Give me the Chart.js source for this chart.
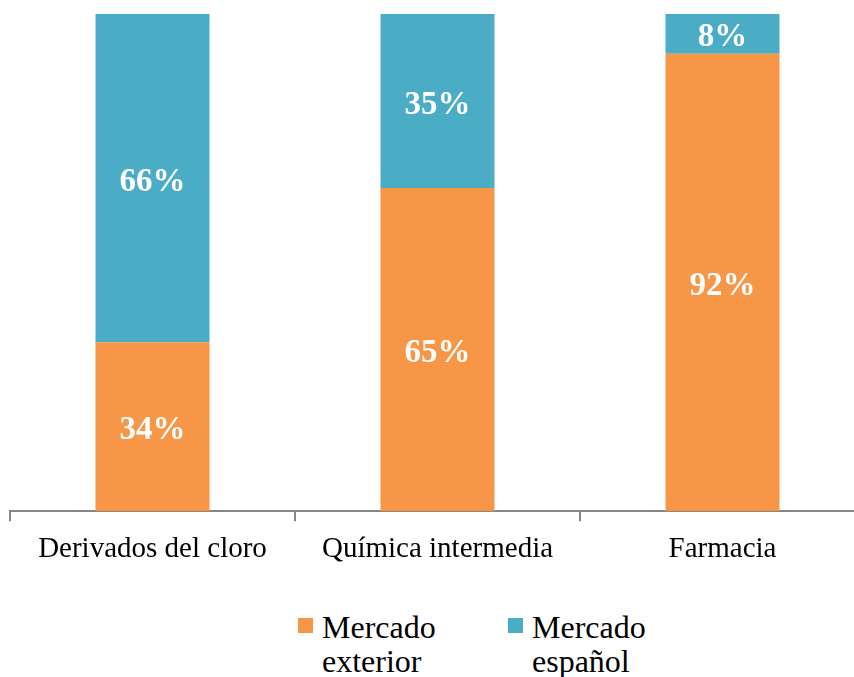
<!DOCTYPE html>
<html>
<head>
<meta charset="utf-8">
<script src="https://cdn.jsdelivr.net/npm/chart.js@4"></script>
<style>
  html, body { margin: 0; padding: 0; background: #fff; overflow: hidden; }
  #wrap { position: relative; width: 866px; height: 677px; }
  #box { position: absolute; left: 0; top: 0; width: 866px; height: 578px; }
  .legend { position: absolute; top: 610px; font-family: 'Liberation Serif'; font-size: 32px; line-height: 34px; color: #000; }
  .swatch { position: absolute; top: 8px; width: 15px; height: 15px; }
</style>
</head>
<body>
<div id="wrap">
  <div id="box"><canvas id="mychart"></canvas></div>
  <div class="legend" style="left:298px"><span class="swatch" style="left:0;background:#F79646"></span><div style="margin-left:24px">Mercado<br>exterior</div></div>
  <div class="legend" style="left:508px"><span class="swatch" style="left:0;background:#4BACC6"></span><div style="margin-left:24px">Mercado<br>español</div></div>
</div>
<script>
// chart values
const categories = ["Derivados del cloro", "Química intermedia", "Farmacia"];
const exterior = [34, 65, 92];
const espanol = [66, 35, 8];

const serif = "'Liberation Serif'";

// draws the white % labels inside each segment
const barLabels = {
  id: "barLabels",
  afterDatasetsDraw(chart) {
    const ctx = chart.ctx;
    ctx.save();
    ctx.font = "bold 33px " + serif;
    ctx.fillStyle = "#fff";
    ctx.textAlign = "center";
    ctx.textBaseline = "middle";
    chart.data.datasets.forEach((ds, i) => {
      chart.getDatasetMeta(i).data.forEach((bar, j) => {
        const mid = (bar.y + bar.base) / 2;
        ctx.fillText(ds.data[j] + "%", bar.x, mid + 4);
      });
    });
    ctx.restore();
  },
};

let myChart;

function drawChart() {
  const ctx = document.getElementById("mychart").getContext("2d");
  myChart = new Chart(ctx, {
    type: "bar",
    data: {
      labels: categories,
      datasets: [
        { label: "Mercado exterior", data: exterior, backgroundColor: "#F79646" },
        { label: "Mercado español", data: espanol, backgroundColor: "#4BACC6" },
      ],
    },
    options: {
      responsive: true,
      maintainAspectRatio: false,
      animation: false,
      layout: { padding: { left: 10, right: 1, top: 14, bottom: 0 } },
      datasets: { bar: { barPercentage: 0.4, categoryPercentage: 1 } },
      plugins: { legend: { display: false }, tooltip: { enabled: false } },
      scales: {
        x: {
          stacked: true,
          border: { color: "#868686", width: 2 },
          grid: { drawOnChartArea: false, tickLength: 10, color: "#868686", lineWidth: 2 },
          ticks: { color: "#000", font: { family: serif, size: 29 }, padding: 11 },
        },
        y: {
          stacked: true,
          display: false,
          min: 0,
          max: 100,
        },
      },
    },
    plugins: [barLabels],
  });
}

Promise.all([
  document.fonts.load("29px 'Liberation Serif'"),
  document.fonts.load("bold 33px 'Liberation Serif'"),
]).then(drawChart, drawChart);
</script>
</body>
</html>
